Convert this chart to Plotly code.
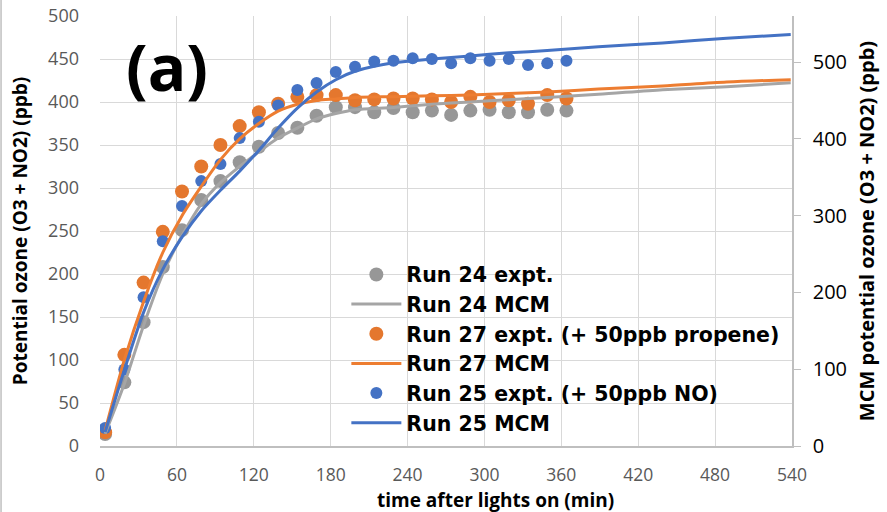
import plotly.graph_objects as go

# experimental sampling times (min)
t_expt = [4, 19, 34, 49, 64, 79, 94, 109, 124, 139, 154, 169, 184, 199, 214, 229, 244, 259, 274, 289, 304, 319, 334, 349, 364]
run24_expt = [14, 74, 144, 208, 251, 286, 308, 330, 348, 364, 370, 384, 394, 394, 388, 393, 388, 390, 385, 390, 391, 388, 388, 391, 390]
run27_expt = [16, 106, 190, 249, 296, 325, 350, 372, 388, 398, 406, 408, 408, 402, 403, 404, 404, 403, 400, 406, 400, 402, 398, 408, 404]
run25_expt = [21, 89, 173, 238, 279, 308, 328, 358, 377, 396, 414, 422, 435, 441, 447, 448, 451, 450, 445, 451, 448, 450, 443, 445, 448]

# MCM model output (right-axis units)
t_mcm = [4, 19, 34, 49, 64, 79, 94, 109, 124, 139, 154, 169, 184, 199, 229, 259, 289, 319, 349, 389, 439, 489, 539]
run24_mcm = [16, 81, 157, 224, 274, 315, 343, 364, 383, 401, 414, 426, 433, 438, 441, 445, 448, 451, 454, 458, 464, 468, 473]
run27_mcm = [20, 112, 188, 252, 300, 338, 373, 400, 420, 436, 445, 450, 452, 454, 455, 456, 457, 459, 461, 465, 469, 474, 477]
run25_mcm = [18, 99, 174, 230, 272, 306, 333, 358, 385, 414, 440, 461, 477, 488, 499, 504, 508, 512, 515, 520, 525, 531, 536]

x_ticks = [0, 60, 120, 180, 240, 300, 360, 420, 480, 540]
y_ticks = [0, 50, 100, 150, 200, 250, 300, 350, 400, 450, 500]
y2_ticks = [0, 100, 200, 300, 400, 500]

FONT = "Open Sans"
LEG_FONT = "DejaVu Sans"
GRAY_M, GRAY_L = "#979797", "#a5a5a5"
ORANGE_M, ORANGE_L = "#e4772e", "#ed7d31"
BLUE_M, BLUE_L = "#4472c4", "#4472c4"

fig = go.Figure()
fig.add_trace(go.Scatter(x=t_expt, y=run24_expt, mode="markers", name="Run 24 expt.",
                         marker=dict(color=GRAY_M, size=14, line=dict(width=0))))
fig.add_trace(go.Scatter(x=t_mcm, y=run24_mcm, mode="lines", name="Run 24 MCM", yaxis="y2",
                         line=dict(color=GRAY_L, width=3, shape="spline", smoothing=0.8)))
fig.add_trace(go.Scatter(x=t_expt, y=run27_expt, mode="markers", name="Run 27 expt. (+ 50ppb propene)",
                         marker=dict(color=ORANGE_M, size=14, line=dict(width=0))))
fig.add_trace(go.Scatter(x=t_mcm, y=run27_mcm, mode="lines", name="Run 27 MCM", yaxis="y2",
                         line=dict(color=ORANGE_L, width=3, shape="spline", smoothing=0.8)))
fig.add_trace(go.Scatter(x=t_expt, y=run25_expt, mode="markers", name="Run 25 expt. (+ 50ppb NO)",
                         marker=dict(color=BLUE_M, size=12, line=dict(width=0))))
fig.add_trace(go.Scatter(x=t_mcm, y=run25_mcm, mode="lines", name="Run 25 MCM", yaxis="y2",
                         line=dict(color=BLUE_L, width=3, shape="spline", smoothing=0.8)))

fig.update_layout(
    width=887, height=512,
    margin=dict(l=100, r=95, t=16, b=66, autoexpand=False),
    paper_bgcolor="white", plot_bgcolor="white",
    font=dict(family=FONT, color="#000000"),
    showlegend=True,
    legend=dict(x=0.356, y=0.445, xanchor="left", yanchor="top",
                bgcolor="rgba(0,0,0,0)", borderwidth=0,
                font=dict(family=LEG_FONT, size=20.5, color="#000000", weight="bold"),
                itemwidth=50, tracegroupgap=0),
    xaxis=dict(range=[0, 540], tickvals=x_ticks, showgrid=True, gridcolor="#d9d9d9", gridwidth=1,
               zeroline=False, showline=True, linecolor="#bfbfbf", linewidth=1.5, automargin=False,
               tickfont=dict(family=FONT, size=17.5, color="#595959"), ticks="", ticklabelstandoff=12),
    yaxis=dict(range=[0, 500], tickvals=y_ticks, showgrid=True, gridcolor="#d9d9d9", gridwidth=1,
               zeroline=False, showline=False, automargin=False,
               tickfont=dict(family=FONT, size=18, color="#595959"), ticks="", ticklabelstandoff=20,
               title=dict(text="Potential ozone (O3 + NO2) (ppb)", standoff=15,
                          font=dict(family=FONT, size=19, color="#000000", weight="bold"))),
    yaxis2=dict(range=[0, 560], tickvals=y2_ticks, overlaying="y", side="right", showgrid=False,
                zeroline=False, showline=True, linecolor="#bfbfbf", linewidth=1.5, automargin=False,
                ticks="outside", ticklen=7, tickcolor="#bfbfbf", ticklabelstandoff=8,
                tickfont=dict(family=FONT, size=20, color="#000000"),
                title=dict(text="MCM potential ozone (O3 + NO2) (ppb)", standoff=14,
                           font=dict(family=FONT, size=20, color="#000000", weight="bold"))),
    annotations=[
        dict(text="(a)", x=52, y=441, xref="x", yref="y", showarrow=False,
             font=dict(family=FONT, size=64, color="#000000", weight="bold")),
        dict(text="time after lights on (min)", x=0.572, y=-0.126, xref="paper", yref="paper",
             xanchor="center", yanchor="middle", showarrow=False,
             font=dict(family=FONT, size=19, color="#000000", weight="bold")),
    ],
    shapes=[dict(type="line", xref="paper", yref="paper", x0=-0.143, x1=-0.143, y0=-0.2, y1=1.1,
                 line=dict(color="#bfbfbf", width=1.5))],
)

fig.write_html("out.html")
